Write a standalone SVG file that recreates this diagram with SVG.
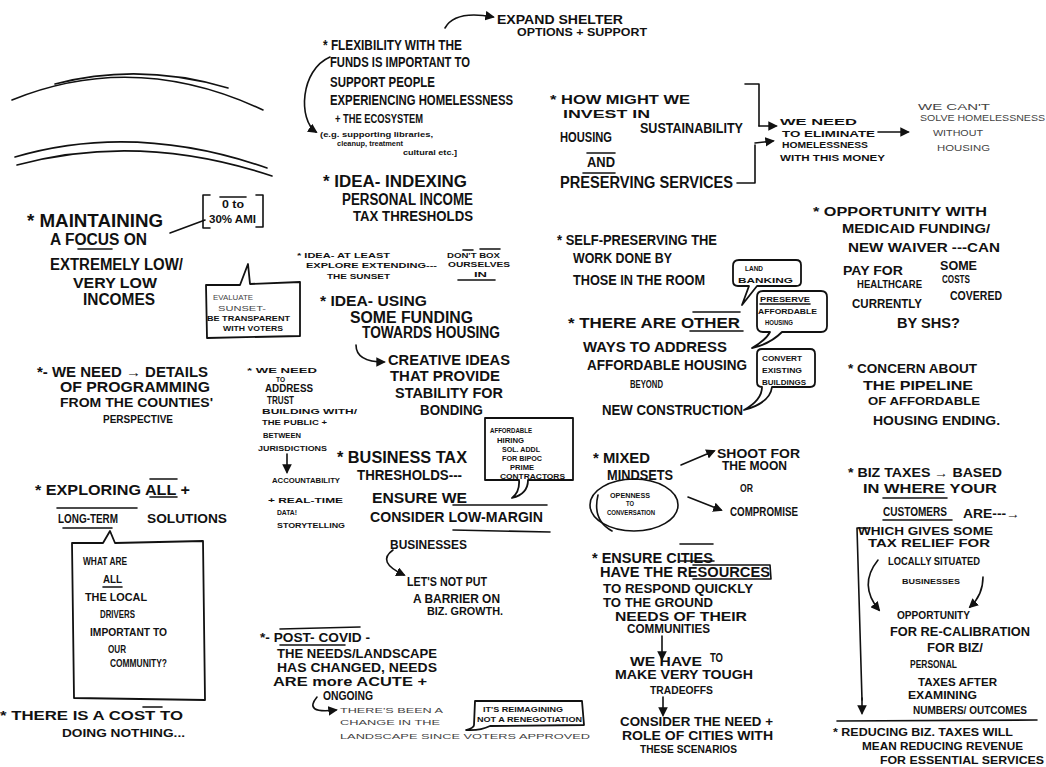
<svg xmlns="http://www.w3.org/2000/svg" width="1046" height="767" viewBox="0 0 1046 767">
<style>
text{font-family:"Liberation Sans","DejaVu Sans",sans-serif;font-weight:bold;fill:#111;}
.xl{font-size:18px}.l{font-size:16px}.m{font-size:14px}.s{font-size:12px}.xs{font-size:10px}.xxs{font-size:8px}.t9{font-size:9px}.t7{font-size:7px}
.ln{fill:none;stroke:#111;stroke-width:1.6;stroke-linecap:round;stroke-linejoin:round}
.cn{fill:none;stroke:#111;stroke-width:1.6;stroke-linecap:round;marker-end:url(#ah)}
.bub{fill:#fff;stroke:#111;stroke-width:1.8;stroke-linejoin:round}
.lt{font-weight:normal;fill:#444}
</style>
<defs>
<marker id="ah" viewBox="0 0 10 10" refX="8" refY="5" markerWidth="6" markerHeight="6" orient="auto-start-reverse">
<path d="M0,0 L10,5 L0,10 z" fill="#111"/>
</marker>
</defs>
<rect width="1046" height="767" fill="#fff"/>

<g id="arcs">
<path class="ln" d="M12,100 Q135,50 263,110" stroke-width="1.2"/>
<path class="ln" d="M55,84 Q140,62 228,88" stroke-width="1.2"/>
<path class="ln" d="M15,157 Q135,122 267,168" stroke-width="1.2"/>
<path class="ln" d="M17,165 Q140,132 272,176" stroke-width="1.2"/>
</g>

<g id="connectors">
<path class="ln" d="M170,233 L205,220"/>
<path class="cn" d="M445,28 Q455,10 493,17"/>
<path class="cn" d="M330,57 C300,70 298,120 316,132"/>
<path class="cn" d="M356,345 Q356,362 384,362"/>
<path class="cn" d="M287,454 L287,472"/>
<path class="cn" d="M393,550 Q376,562 404,575"/>
<path class="cn" d="M317,697 Q303,714 336,710"/>
<path class="ln" d="M745,84 L759,84 L759,126"/>
<path class="cn" d="M759,126 L776,126"/>
<path class="ln" d="M737,183 L755,183 L755,145"/>
<path class="cn" d="M755,143 L773,141"/>
<path class="cn" d="M878,132 L908,132" stroke-width="2.4"/>
<path class="cn" d="M681,465 L714,451"/>
<path class="cn" d="M688,497 L721,510"/>
<path class="cn" d="M662,636 L662,659"/>
<path class="cn" d="M663,697 L663,715"/>
<path class="cn" d="M878,560 Q858,585 879,610"/>
<path class="cn" d="M983,577 Q983,595 970,607"/>
<path class="ln" d="M868,528 L857,528 L862,700"/>
<path class="cn" d="M862,698 L862,713"/>
<path class="ln" d="M837,721 L1037,720"/>
</g>

<g id="maintaining">
<text class="xl" x="27" y="227" textLength="136" lengthAdjust="spacingAndGlyphs">* MAINTAINING</text>
<text class="l" x="50" y="245" textLength="97" lengthAdjust="spacingAndGlyphs">A FOCUS ON</text>
<path class="ln" d="M78,249 L112,249"/>
<text class="l" x="50" y="270" textLength="133" lengthAdjust="spacingAndGlyphs">EXTREMELY LOW/</text>
<text class="m" x="73" y="288" textLength="84" lengthAdjust="spacingAndGlyphs">VERY LOW</text>
<text class="l" x="83" y="305" textLength="72" lengthAdjust="spacingAndGlyphs">INCOMES</text>
</g>

<g id="ami">
<path class="ln" d="M210,195 L203,195 L203,228 L210,228 M256,195 L263,195 L263,227 L256,227"/>
<path class="ln" d="M220,197 L246,197"/>
<text class="xs" x="222" y="208" textLength="22" lengthAdjust="spacingAndGlyphs">0 to</text>
<text class="xs" x="209" y="223" textLength="47" lengthAdjust="spacingAndGlyphs">30% AMI</text>
</g>

<g id="evaluate">
<path class="bub" d="M206,285 L240,285 L248,264 L250,284 L300,282 L300,336 L207,338 Z"/>
<text class="xxs lt" x="213" y="300" textLength="40" lengthAdjust="spacingAndGlyphs">EVALUATE</text>
<text class="xxs lt" x="218" y="311" textLength="48" lengthAdjust="spacingAndGlyphs">SUNSET-</text>
<text class="xxs" x="207" y="321" textLength="83" lengthAdjust="spacingAndGlyphs">BE TRANSPARENT</text>
<text class="xxs" x="223" y="331" textLength="60" lengthAdjust="spacingAndGlyphs">WITH VOTERS</text>
</g>

<g id="details">
<text class="m" x="37" y="377" textLength="171" lengthAdjust="spacingAndGlyphs">*- WE NEED → DETAILS</text>
<text class="m" x="60" y="392" textLength="150" lengthAdjust="spacingAndGlyphs">OF PROGRAMMING</text>
<text class="s" x="60" y="407" textLength="153" lengthAdjust="spacingAndGlyphs">FROM THE COUNTIES'</text>
<text class="xs" x="103" y="423" textLength="70" lengthAdjust="spacingAndGlyphs">PERSPECTIVE</text>
</g>

<g id="exploring">
<text class="m" x="35" y="495" textLength="155" lengthAdjust="spacingAndGlyphs">*  EXPLORING ALL +</text>
<path class="ln" d="M150,479 L177,479 M150,497 L177,497"/>
<text class="s" x="58" y="523" textLength="60" lengthAdjust="spacingAndGlyphs">LONG-TERM</text>
<text class="s" x="147" y="523" textLength="80" lengthAdjust="spacingAndGlyphs">SOLUTIONS</text>
<path class="ln" d="M57,508 L137,508 M63,528 L112,528"/>
</g>

<g id="drivers">
<path class="bub" d="M72,543 L103,543 L110,531 L115,543 L203,541 L205,700 L74,698 Z"/>
<text class="xs" x="83" y="565" textLength="44" lengthAdjust="spacingAndGlyphs">WHAT ARE</text>
<text class="xs" x="103" y="583" textLength="19" lengthAdjust="spacingAndGlyphs">ALL</text>
<path class="ln" d="M103,587 L122,587"/>
<text class="xs" x="85" y="601" textLength="62" lengthAdjust="spacingAndGlyphs">THE LOCAL</text>
<text class="xs" x="100" y="618" textLength="35" lengthAdjust="spacingAndGlyphs">DRIVERS</text>
<text class="xs" x="90" y="636" textLength="77" lengthAdjust="spacingAndGlyphs">IMPORTANT TO</text>
<text class="xs" x="108" y="653" textLength="18" lengthAdjust="spacingAndGlyphs">OUR</text>
<text class="xs" x="110" y="667" textLength="57" lengthAdjust="spacingAndGlyphs">COMMUNITY?</text>
</g>

<g id="cost">
<text class="s" x="0" y="720" textLength="183" lengthAdjust="spacingAndGlyphs">*  THERE   IS   A   COST   TO</text>
<path class="ln" d="M143,707 L162,707"/>
<text class="xs" x="62" y="737" textLength="123" lengthAdjust="spacingAndGlyphs">DOING NOTHING...</text>
</g>

<g id="expand">
<text class="s" x="497" y="24" textLength="126" lengthAdjust="spacingAndGlyphs">EXPAND  SHELTER</text>
<text class="xs" x="517" y="36" textLength="130" lengthAdjust="spacingAndGlyphs">OPTIONS  +  SUPPORT</text>
</g>

<g id="flexibility">
<text class="m" x="323" y="50" textLength="139" lengthAdjust="spacingAndGlyphs">* FLEXIBILITY WITH THE</text>
<text class="m" x="330" y="67" textLength="140" lengthAdjust="spacingAndGlyphs">FUNDS IS IMPORTANT TO</text>
<text class="m" x="330" y="87" textLength="105" lengthAdjust="spacingAndGlyphs">SUPPORT PEOPLE</text>
<text class="m" x="330" y="105" textLength="183" lengthAdjust="spacingAndGlyphs">EXPERIENCING HOMELESSNESS</text>
<text class="s" x="335" y="123" textLength="88" lengthAdjust="spacingAndGlyphs">+ THE ECOSYSTEM</text>
<text class="xxs" x="320" y="137" textLength="113" lengthAdjust="spacingAndGlyphs">(e.g. supporting   libraries,</text>
<text class="xxs" x="337" y="146" textLength="66" lengthAdjust="spacingAndGlyphs">cleanup, treatment</text>
<text class="xxs" x="403" y="155" textLength="54" lengthAdjust="spacingAndGlyphs">cultural etc.]</text>
</g>

<g id="indexing">
<text class="l" x="323" y="187" textLength="144" lengthAdjust="spacingAndGlyphs">* IDEA-  INDEXING</text>
<text class="l" x="342" y="205" textLength="131" lengthAdjust="spacingAndGlyphs">PERSONAL  INCOME</text>
<text class="m" x="353" y="221" textLength="120" lengthAdjust="spacingAndGlyphs">TAX  THRESHOLDS</text>
</g>

<g id="sunset">
<text class="xxs" x="297" y="258" textLength="93" lengthAdjust="spacingAndGlyphs">* IDEA- AT LEAST</text>
<text class="xxs" x="306" y="268" textLength="131" lengthAdjust="spacingAndGlyphs">EXPLORE  EXTENDING---</text>
<text class="xxs" x="327" y="279" textLength="63" lengthAdjust="spacingAndGlyphs">THE SUNSET</text>
<text class="xxs" x="447" y="258" textLength="53" lengthAdjust="spacingAndGlyphs">DON'T BOX</text>
<text class="xxs" x="448" y="267" textLength="62" lengthAdjust="spacingAndGlyphs">OURSELVES</text>
<path class="ln" d="M463,250 L473,250 M480,249 L500,249"/>
<text class="xxs" x="474" y="277" textLength="13" lengthAdjust="spacingAndGlyphs">IN</text>
<path class="ln" d="M458,280 L495,280"/>
</g>

<g id="using">
<text class="m" x="320" y="306" textLength="107" lengthAdjust="spacingAndGlyphs">* IDEA- USING</text>
<text class="l" x="350" y="323" textLength="123" lengthAdjust="spacingAndGlyphs">SOME  FUNDING</text>
<text class="l" x="362" y="338" textLength="138" lengthAdjust="spacingAndGlyphs">TOWARDS  HOUSING</text>
<text class="m" x="388" y="365" textLength="122" lengthAdjust="spacingAndGlyphs">CREATIVE   IDEAS</text>
<text class="m" x="390" y="381" textLength="110" lengthAdjust="spacingAndGlyphs">THAT  PROVIDE</text>
<text class="m" x="395" y="398" textLength="108" lengthAdjust="spacingAndGlyphs">STABILITY   FOR</text>
<text class="m" x="420" y="415" textLength="63" lengthAdjust="spacingAndGlyphs">BONDING</text>
</g>

<g id="trust">
<text class="xxs" x="247" y="373" textLength="70" lengthAdjust="spacingAndGlyphs">* WE  NEED</text>
<text class="t7" x="276" y="382" textLength="9" lengthAdjust="spacingAndGlyphs">TO</text>
<text class="xs" x="265" y="392" textLength="48" lengthAdjust="spacingAndGlyphs">ADDRESS</text>
<text class="xs" x="267" y="404" textLength="27" lengthAdjust="spacingAndGlyphs">TRUST</text>
<text class="xxs" x="262" y="414" textLength="95" lengthAdjust="spacingAndGlyphs">BUILDING WITH/</text>
<text class="xxs" x="262" y="425" textLength="65" lengthAdjust="spacingAndGlyphs">THE   PUBLIC +</text>
<text class="xxs" x="263" y="438" textLength="38" lengthAdjust="spacingAndGlyphs">BETWEEN</text>
<text class="xxs" x="258" y="451" textLength="69" lengthAdjust="spacingAndGlyphs">JURISDICTIONS</text>
<text class="xxs" x="272" y="483" textLength="68" lengthAdjust="spacingAndGlyphs">ACCOUNTABILITY</text>
<text class="xxs" x="268" y="503" textLength="75" lengthAdjust="spacingAndGlyphs">+  REAL-TIME</text>
<text class="xxs" x="277" y="515" textLength="20" lengthAdjust="spacingAndGlyphs">DATA!</text>
<text class="xxs" x="277" y="528" textLength="68" lengthAdjust="spacingAndGlyphs">STORYTELLING</text>
</g>

<g id="hiring">
<path class="bub" d="M485,418 L573,418 L573,480 L528,480 Q528,494 512,498 Q520,492 519,480 L485,480 Z"/>
<text class="xxs" x="490" y="433" textLength="42" lengthAdjust="spacingAndGlyphs">AFFORDABLE</text>
<text class="xxs" x="497" y="443" textLength="27" lengthAdjust="spacingAndGlyphs">HIRING</text>
<text class="xxs" x="502" y="452" textLength="38" lengthAdjust="spacingAndGlyphs">SOL. ADDL</text>
<text class="xxs" x="502" y="461" textLength="40" lengthAdjust="spacingAndGlyphs">FOR BIPOC</text>
<text class="xxs" x="510" y="470" textLength="24" lengthAdjust="spacingAndGlyphs">PRIME</text>
<text class="xxs" x="500" y="479" textLength="65" lengthAdjust="spacingAndGlyphs">CONTRACTORS</text>
</g>

<g id="business">
<text class="l" x="337" y="463" textLength="130" lengthAdjust="spacingAndGlyphs">*  BUSINESS  TAX</text>
<text class="m" x="357" y="480" textLength="105" lengthAdjust="spacingAndGlyphs">THRESHOLDS---</text>
<text class="m" x="372" y="503" textLength="95" lengthAdjust="spacingAndGlyphs">ENSURE  WE</text>
<text class="m" x="370" y="522" textLength="173" lengthAdjust="spacingAndGlyphs">CONSIDER  LOW-MARGIN</text>
<path class="ln" d="M453,505 L547,505 M453,530 L550,532"/>
<text class="s" x="390" y="549" textLength="77" lengthAdjust="spacingAndGlyphs">BUSINESSES</text>
<text class="s" x="407" y="586" textLength="80" lengthAdjust="spacingAndGlyphs">LET'S  NOT  PUT</text>
<text class="s" x="413" y="603" textLength="87" lengthAdjust="spacingAndGlyphs">A  BARRIER  ON</text>
<text class="xs" x="427" y="615" textLength="76" lengthAdjust="spacingAndGlyphs">BIZ.  GROWTH.</text>
</g>

<g id="postcovid">
<text class="s" x="260" y="642" textLength="110" lengthAdjust="spacingAndGlyphs">*- POST- COVID -</text>
<path class="ln" d="M280,629 L360,627 M280,645 L345,645"/>
<text class="s" x="277" y="658" textLength="160" lengthAdjust="spacingAndGlyphs">THE    NEEDS/LANDSCAPE</text>
<text class="s" x="277" y="672" textLength="160" lengthAdjust="spacingAndGlyphs">HAS    CHANGED, NEEDS</text>
<text class="s" x="273" y="686" textLength="154" lengthAdjust="spacingAndGlyphs">ARE    more    ACUTE  +</text>
<text class="s" x="323" y="700" textLength="50" lengthAdjust="spacingAndGlyphs">ONGOING</text>
<text class="xxs lt" x="340" y="713" textLength="103" lengthAdjust="spacingAndGlyphs">THERE'S   BEEN    A</text>
<text class="xxs lt" x="340" y="725" textLength="100" lengthAdjust="spacingAndGlyphs">CHANGE   IN    THE</text>
<text class="xxs lt" x="340" y="739" textLength="250" lengthAdjust="spacingAndGlyphs">LANDSCAPE      SINCE  VOTERS   APPROVED</text>
</g>

<g id="reimagining">
<path class="bub" d="M475,701 L582,701 L584,725 L490,726 Q480,731 466,730 Q474,728 474,725 Z"/>
<text class="xxs" x="483" y="712" textLength="80" lengthAdjust="spacingAndGlyphs">IT'S REIMAGINING</text>
<text class="xxs" x="477" y="722" textLength="105" lengthAdjust="spacingAndGlyphs">NOT A RENEGOTIATION</text>
</g>

<g id="howmight">
<text class="s" x="550" y="104" textLength="140" lengthAdjust="spacingAndGlyphs">* HOW   MIGHT   WE</text>
<text class="xs" x="563" y="118" textLength="87" lengthAdjust="spacingAndGlyphs">INVEST      IN</text>
<text class="m" x="560" y="142" textLength="52" lengthAdjust="spacingAndGlyphs">HOUSING</text>
<text class="m" x="640" y="133" textLength="103" lengthAdjust="spacingAndGlyphs">SUSTAINABILITY</text>
<text class="m" x="587" y="167" textLength="28" lengthAdjust="spacingAndGlyphs">AND</text>
<path class="ln" d="M587,153 L615,153 M583,173 L615,173"/>
<text class="l" x="560" y="188" textLength="173" lengthAdjust="spacingAndGlyphs">PRESERVING  SERVICES</text>
</g>

<g id="eliminate">
<text class="t9" x="780" y="125" textLength="77" lengthAdjust="spacingAndGlyphs">WE     NEED</text>
<text class="t9" x="782" y="137" textLength="93" lengthAdjust="spacingAndGlyphs">TO  ELIMINATE</text>
<text class="t9" x="782" y="148" textLength="86" lengthAdjust="spacingAndGlyphs">HOMELESSNESS</text>
<text class="t9" x="780" y="161" textLength="105" lengthAdjust="spacingAndGlyphs">WITH  THIS  MONEY</text>
</g>

<g id="cant">
<text class="t9 lt" x="918" y="110" textLength="72" lengthAdjust="spacingAndGlyphs">WE   CAN'T</text>
<text class="t9 lt" x="920" y="121" textLength="125" lengthAdjust="spacingAndGlyphs">SOLVE  HOMELESSNESS</text>
<text class="t9 lt" x="933" y="136" textLength="50" lengthAdjust="spacingAndGlyphs">WITHOUT</text>
<text class="t9 lt" x="937" y="151" textLength="53" lengthAdjust="spacingAndGlyphs">HOUSING</text>
</g>

<g id="selfpreserving">
<text class="m" x="557" y="245" textLength="160" lengthAdjust="spacingAndGlyphs">* SELF-PRESERVING THE</text>
<text class="m" x="573" y="263" textLength="99" lengthAdjust="spacingAndGlyphs">WORK DONE BY</text>
<text class="m" x="573" y="285" textLength="132" lengthAdjust="spacingAndGlyphs">THOSE IN THE ROOM</text>
</g>

<g id="landbanking">
<path class="bub" d="M739,260 L796,260 Q801,260 801,265 L801,282 Q801,286 796,286 L757,286 L742,305 L749,286 L738,286 Q733,286 733,281 L733,266 Q733,260 739,260 Z"/>
<text class="xxs" x="745" y="271" textLength="18" lengthAdjust="spacingAndGlyphs">LAND</text>
<text class="xxs" x="738" y="283" textLength="55" lengthAdjust="spacingAndGlyphs">BANKING</text>
</g>

<g id="preserve">
<path class="bub" d="M763,291 L821,291 Q827,291 827,297 L827,326 Q827,332 821,332 L782,332 Q770,344 752,348 Q766,340 770,332 L763,332 Q757,332 757,326 L757,297 Q757,291 763,291 Z"/>
<text class="xxs" x="760" y="302" textLength="50" lengthAdjust="spacingAndGlyphs">PRESERVE</text>
<path class="ln" d="M760,304 L810,304"/>
<text class="xxs" x="758" y="314" textLength="59" lengthAdjust="spacingAndGlyphs">AFFORDABLE</text>
<text class="xxs" x="765" y="325" textLength="28" lengthAdjust="spacingAndGlyphs">HOUSING</text>
</g>

<g id="convert">
<path class="bub" d="M762,349 L810,349 Q815,349 815,354 L815,382 Q815,387 810,387 L772,387 Q770,403 744,410 Q762,400 762,387 Q757,387 757,382 L757,354 Q757,349 762,349 Z"/>
<text class="xxs" x="762" y="361" textLength="40" lengthAdjust="spacingAndGlyphs">CONVERT</text>
<text class="xxs" x="762" y="373" textLength="40" lengthAdjust="spacingAndGlyphs">EXISTING</text>
<text class="xxs" x="762" y="385" textLength="44" lengthAdjust="spacingAndGlyphs">BUILDINGS</text>
</g>

<g id="otherways">
<text class="m" x="568" y="328" textLength="172" lengthAdjust="spacingAndGlyphs">* THERE    ARE    OTHER</text>
<path class="ln" d="M693,312 L740,312 M690,331 L743,331"/>
<text class="m" x="583" y="352" textLength="144" lengthAdjust="spacingAndGlyphs">WAYS  TO  ADDRESS</text>
<text class="m" x="587" y="370" textLength="160" lengthAdjust="spacingAndGlyphs">AFFORDABLE   HOUSING</text>
<text class="xs" x="630" y="388" textLength="33" lengthAdjust="spacingAndGlyphs">BEYOND</text>
<text class="m" x="602" y="415" textLength="141" lengthAdjust="spacingAndGlyphs">NEW    CONSTRUCTION</text>
</g>

<g id="mindsets">
<text class="m" x="593" y="463" textLength="57" lengthAdjust="spacingAndGlyphs">* MIXED</text>
<text class="m" x="607" y="480" textLength="66" lengthAdjust="spacingAndGlyphs">MINDSETS</text>
<ellipse class="ln" cx="634" cy="505" rx="44" ry="26"/>
<path class="ln" d="M598,495 Q592,520 612,531"/>
<text class="xxs" x="610" y="498" textLength="40" lengthAdjust="spacingAndGlyphs">OPENNESS</text>
<text class="xxs" x="626" y="506" textLength="8" lengthAdjust="spacingAndGlyphs">TO</text>
<text class="xxs" x="607" y="515" textLength="48" lengthAdjust="spacingAndGlyphs">CONVERSATION</text>
<text class="s" x="717" y="458" textLength="83" lengthAdjust="spacingAndGlyphs">SHOOT   FOR</text>
<text class="s" x="722" y="470" textLength="65" lengthAdjust="spacingAndGlyphs">THE   MOON</text>
<text class="xs" x="740" y="492" textLength="13" lengthAdjust="spacingAndGlyphs">OR</text>
<text class="s" x="730" y="516" textLength="68" lengthAdjust="spacingAndGlyphs">COMPROMISE</text>
</g>

<g id="cities">
<text class="m" x="592" y="563" textLength="121" lengthAdjust="spacingAndGlyphs">* ENSURE   CITIES</text>
<path class="ln" d="M680,544 L713,544 M680,561 L714,561"/>
<text class="m" x="600" y="577" textLength="170" lengthAdjust="spacingAndGlyphs">HAVE    THE    RESOURCES</text>
<path class="ln" d="M693,565 L770,565 L771,579 L693,579"/>
<text class="s" x="603" y="593" textLength="150" lengthAdjust="spacingAndGlyphs">TO   RESPOND  QUICKLY</text>
<text class="s" x="603" y="607" textLength="110" lengthAdjust="spacingAndGlyphs">TO   THE   GROUND</text>
<text class="s" x="615" y="621" textLength="132" lengthAdjust="spacingAndGlyphs">NEEDS   OF   THEIR</text>
<text class="s" x="627" y="633" textLength="83" lengthAdjust="spacingAndGlyphs">COMMUNITIES</text>
<text class="s" x="630" y="666" textLength="72" lengthAdjust="spacingAndGlyphs">WE    HAVE</text>
<text class="s" x="710" y="662" textLength="13" lengthAdjust="spacingAndGlyphs">TO</text>
<text class="s" x="615" y="679" textLength="138" lengthAdjust="spacingAndGlyphs">MAKE   VERY   TOUGH</text>
<text class="xs" x="650" y="694" textLength="63" lengthAdjust="spacingAndGlyphs">TRADEOFFS</text>
<text class="s" x="620" y="726" textLength="153" lengthAdjust="spacingAndGlyphs">CONSIDER   THE   NEED +</text>
<text class="s" x="622" y="740" textLength="151" lengthAdjust="spacingAndGlyphs">ROLE   OF   CITIES   WITH</text>
<text class="xs" x="640" y="753" textLength="97" lengthAdjust="spacingAndGlyphs">THESE   SCENARIOS</text>
</g>

<g id="medicaid">
<text class="s" x="813" y="216" textLength="174" lengthAdjust="spacingAndGlyphs">*  OPPORTUNITY      WITH</text>
<text class="s" x="842" y="233" textLength="148" lengthAdjust="spacingAndGlyphs">MEDICAID   FUNDING/</text>
<text class="s" x="848" y="252" textLength="152" lengthAdjust="spacingAndGlyphs">NEW   WAIVER ---CAN</text>
<text class="s" x="843" y="275" textLength="60" lengthAdjust="spacingAndGlyphs">PAY   FOR</text>
<text class="s" x="940" y="270" textLength="37" lengthAdjust="spacingAndGlyphs">SOME</text>
<text class="xs" x="857" y="288" textLength="65" lengthAdjust="spacingAndGlyphs">HEALTHCARE</text>
<text class="xs" x="942" y="283" textLength="28" lengthAdjust="spacingAndGlyphs">COSTS</text>
<text class="s" x="852" y="308" textLength="70" lengthAdjust="spacingAndGlyphs">CURRENTLY</text>
<text class="s" x="950" y="300" textLength="52" lengthAdjust="spacingAndGlyphs">COVERED</text>
<text class="m" x="897" y="328" textLength="63" lengthAdjust="spacingAndGlyphs">BY  SHS?</text>
</g>

<g id="pipeline">
<text class="s" x="848" y="373" textLength="129" lengthAdjust="spacingAndGlyphs">* CONCERN    ABOUT</text>
<text class="s" x="863" y="390" textLength="110" lengthAdjust="spacingAndGlyphs">THE    PIPELINE</text>
<text class="xs" x="868" y="405" textLength="112" lengthAdjust="spacingAndGlyphs">OF    AFFORDABLE</text>
<text class="s" x="873" y="425" textLength="127" lengthAdjust="spacingAndGlyphs">HOUSING  ENDING.</text>
</g>

<g id="biztaxes">
<text class="s" x="848" y="477" textLength="154" lengthAdjust="spacingAndGlyphs">* BIZ   TAXES →  BASED</text>
<text class="s" x="863" y="493" textLength="134" lengthAdjust="spacingAndGlyphs">IN     WHERE      YOUR</text>
<text class="s" x="883" y="516" textLength="64" lengthAdjust="spacingAndGlyphs">CUSTOMERS</text>
<path class="ln" d="M883,498 L947,498 M883,520 L952,520"/>
<text class="s" x="963" y="518" textLength="57" lengthAdjust="spacingAndGlyphs">ARE---→</text>
<text class="xs" x="858" y="535" textLength="135" lengthAdjust="spacingAndGlyphs">WHICH    GIVES    SOME</text>
<text class="xs" x="868" y="547" textLength="122" lengthAdjust="spacingAndGlyphs">TAX    RELIEF    FOR</text>
<text class="xs" x="888" y="565" textLength="92" lengthAdjust="spacingAndGlyphs">LOCALLY  SITUATED</text>
<text class="xxs" x="902" y="584" textLength="58" lengthAdjust="spacingAndGlyphs">BUSINESSES</text>
<text class="xs" x="897" y="619" textLength="73" lengthAdjust="spacingAndGlyphs">OPPORTUNITY</text>
<text class="s" x="890" y="636" textLength="140" lengthAdjust="spacingAndGlyphs">FOR   RE-CALIBRATION</text>
<text class="s" x="927" y="652" textLength="56" lengthAdjust="spacingAndGlyphs">FOR   BIZ/</text>
<text class="xs" x="910" y="668" textLength="47" lengthAdjust="spacingAndGlyphs">PERSONAL</text>
<text class="xs" x="918" y="686" textLength="79" lengthAdjust="spacingAndGlyphs">TAXES  AFTER</text>
<text class="xs" x="908" y="699" textLength="69" lengthAdjust="spacingAndGlyphs">EXAMINING</text>
<text class="xs" x="913" y="714" textLength="114" lengthAdjust="spacingAndGlyphs">NUMBERS/ OUTCOMES</text>
<text class="xs" x="833" y="736" textLength="180" lengthAdjust="spacingAndGlyphs">* REDUCING   BIZ.  TAXES   WILL</text>
<text class="xs" x="862" y="750" textLength="161" lengthAdjust="spacingAndGlyphs">MEAN   REDUCING   REVENUE</text>
<text class="xs" x="880" y="764" textLength="164" lengthAdjust="spacingAndGlyphs">FOR   ESSENTIAL   SERVICES</text>
</g>
</svg>
